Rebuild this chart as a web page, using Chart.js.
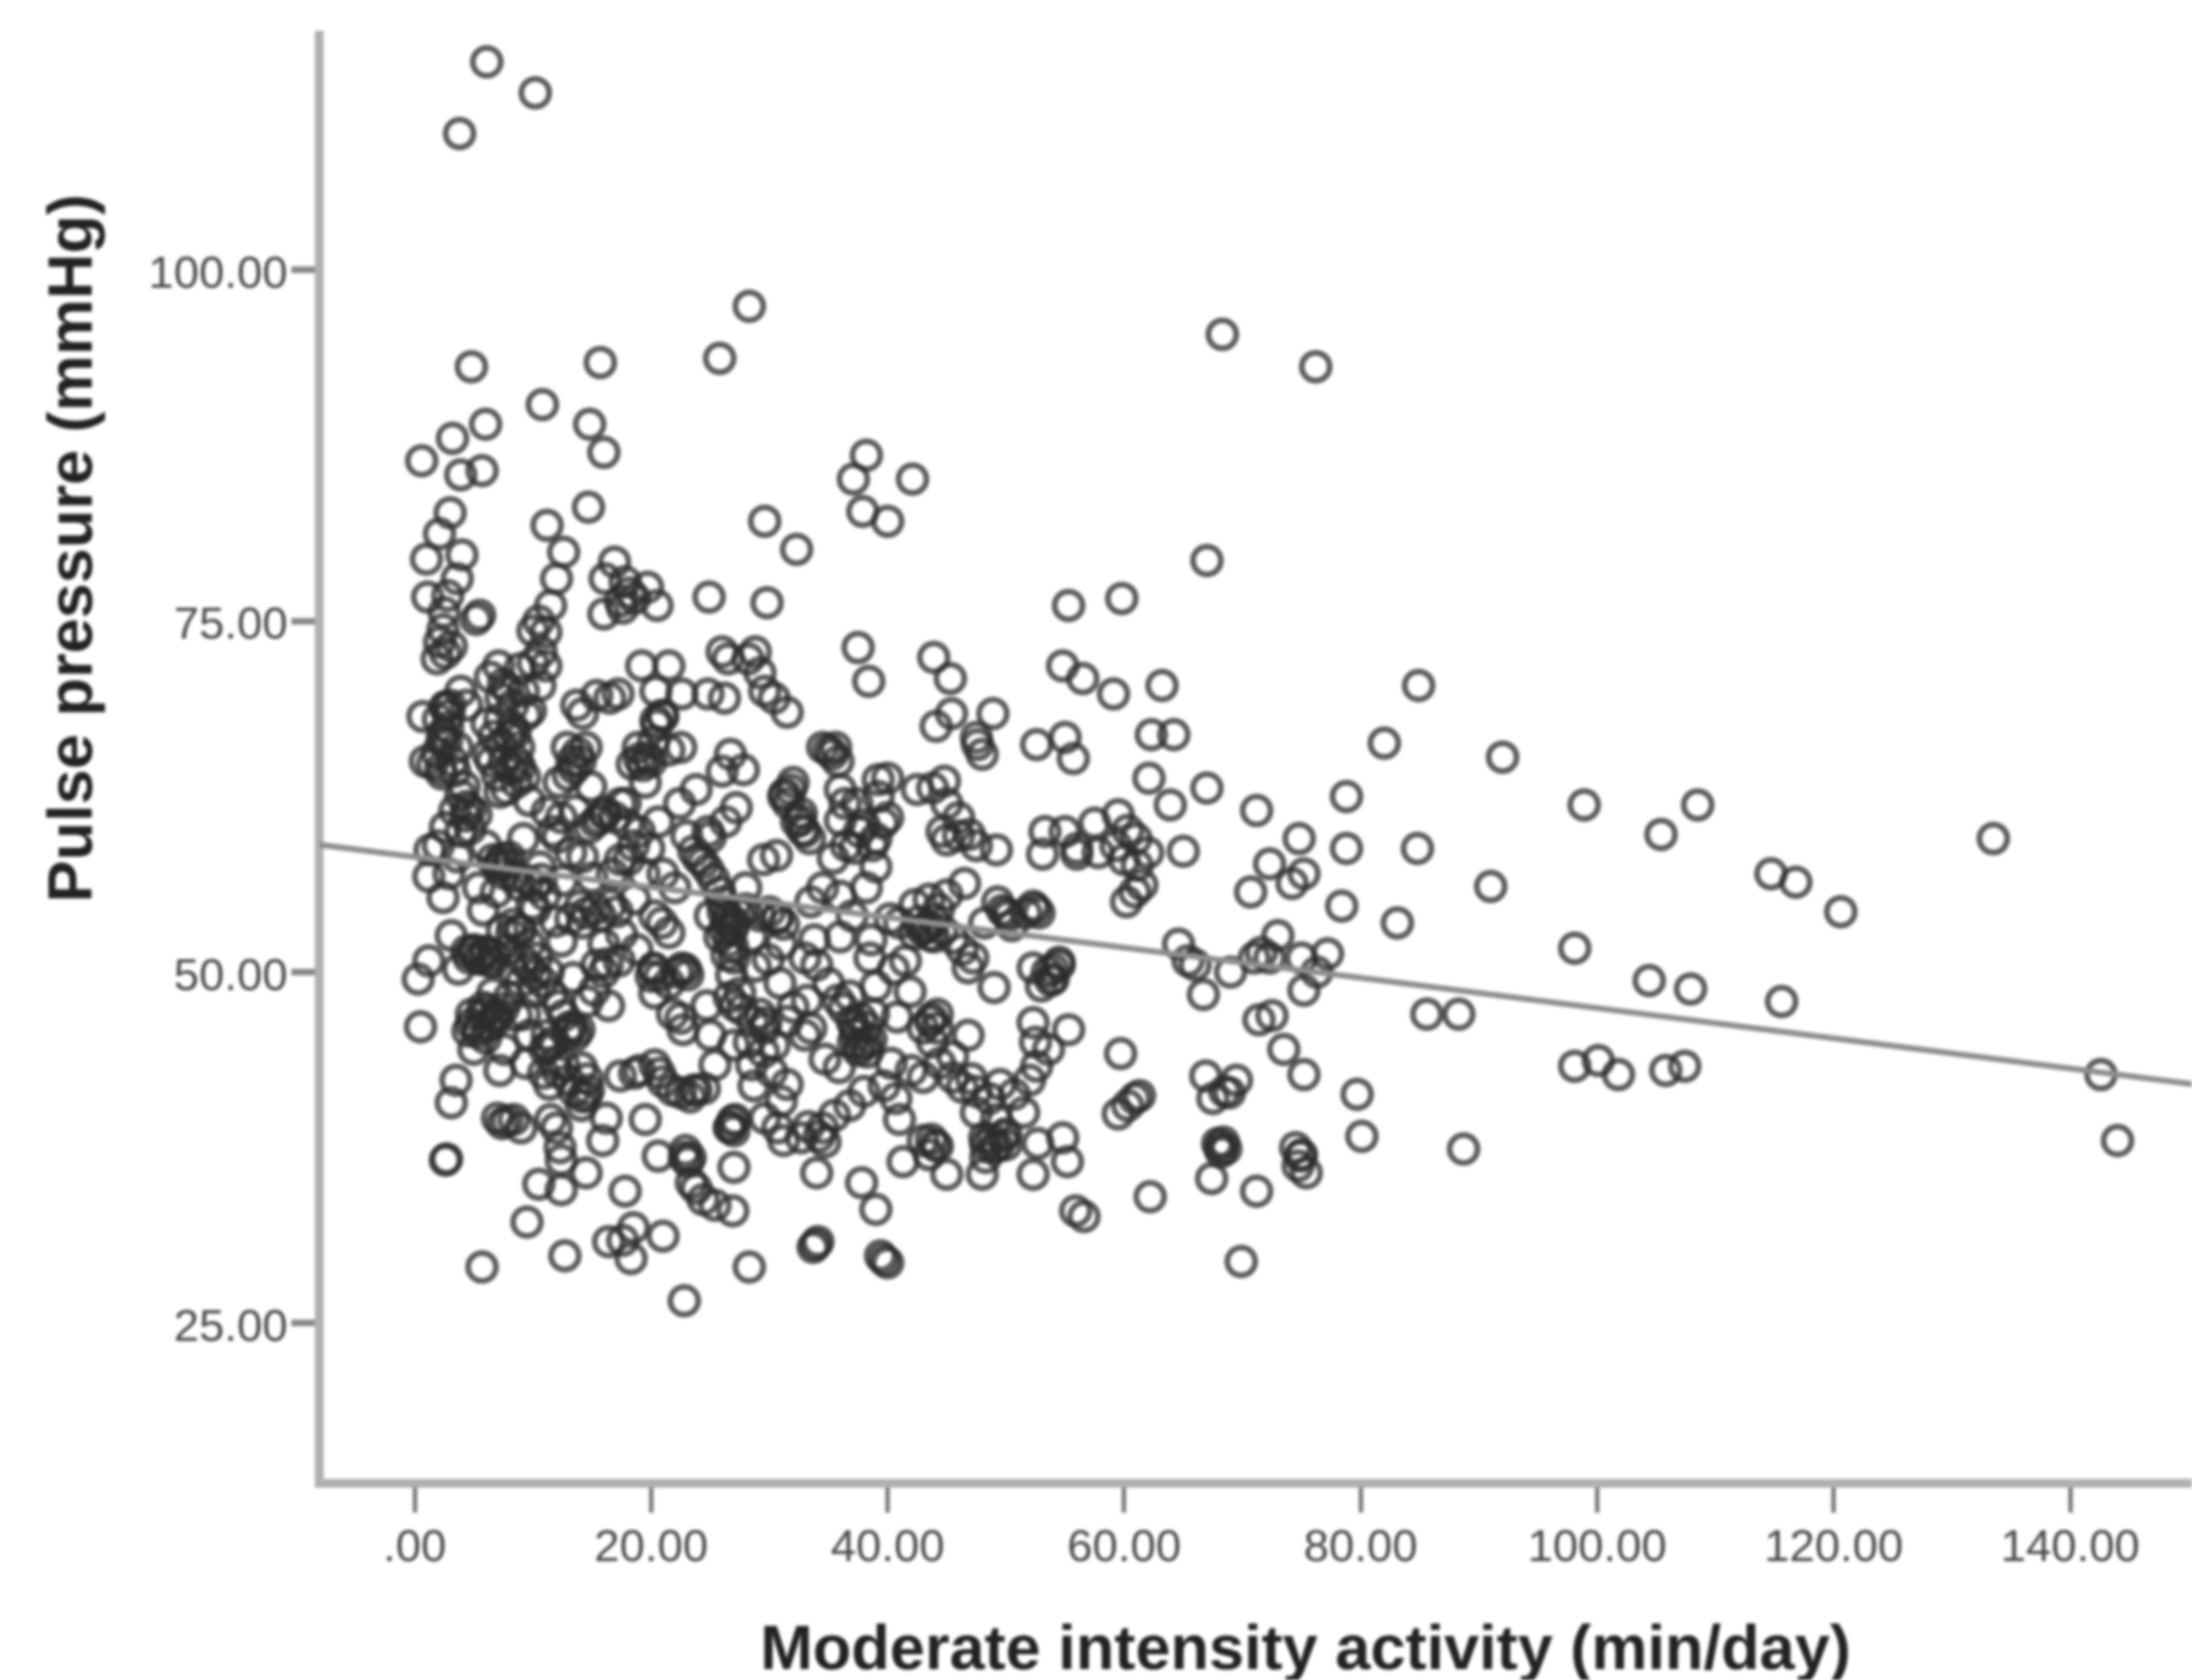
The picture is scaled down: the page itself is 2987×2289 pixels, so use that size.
<!DOCTYPE html>
<html>
<head>
<meta charset="utf-8">
<style>
  html, body { margin: 0; background: #fff; }
  canvas { display: block; filter: blur(2.2px); }
</style>
<script src="https://cdn.jsdelivr.net/npm/chart.js@4/dist/chart.umd.min.js"></script>
</head>
<body>
<canvas id="chart" width="2987" height="2289"></canvas>
<script>
const xTicks = [0, 20, 40, 60, 80, 100, 120, 140];
const yTicks = [25, 50, 75, 100];
const xRange = [-8.07, 150.3];
const yRange = [13.6, 116.7];

// fit line ends
const fitLine = [[-8.07, 59.06], [150.3, 42.03]];

// points as [activity, pulse pressure], grouped by area of the plot
const outliers = [[6.1,114.8],[10.2,112.6],[3.8,109.7],[28.3,97.4],[25.8,93.7],[4.8,93.1],[15.7,93.4],[68.3,95.4],[76.2,93.1],[10.8,90.4],[14.8,89],[6,89],[3.2,88],[0.6,86.4],[16,87],[3.9,85.4],[5.7,85.7],[38.2,86.8],[37.1,85.1],[42.1,85.1],[14.7,83.1],[37.9,82.8],[40,82.1],[29.6,82.1],[32.3,80.1],[67,79.3]];

const upperLeft = [[3,82.7],[2.1,81.2],[1,79.4],[4,79.7],[3.6,78],[1.1,76.7],[2.8,76.8],[2.5,75.6],[5.5,75.4],[5.2,75.1],[2.1,73.5],[1.9,72.3],[2.4,74.4],[11.2,81.8],[12.6,79.9],[12,78],[11.5,76.1],[10,74.3],[11.1,74.2],[7.1,71.8],[11.1,71.8],[10,72],[7.5,70.5],[7.3,69.5],[10.5,75],[10.7,72.8],[16.9,79.2],[16.1,78],[17.8,77.8],[19.7,77.4],[20.5,76.1],[17.4,76.4],[16,75.5],[18.2,77],[18.6,76.6],[17.6,75.9],[24.9,76.7],[29.8,76.3],[55.3,76.1],[59.8,76.6],[3.9,70],[4.4,69]];

const leftTop = [[0.7,68.2],[0.9,65],[1.5,64.8],[2,68],[2.3,66.5],[2.6,68.8],[3,69],[3.2,65],[2.2,64.5],[2.8,67.4],[3.6,66],[3.4,64.3],[6.2,65.5],[6.5,65],[7.6,65],[8.2,64.5],[8.6,63.5],[7.8,63],[7.2,62.8],[9.3,63.9],[7.2,68],[8.5,67],[8.8,66],[8.3,69],[13,64],[13.5,64.5],[14,65],[14.5,66],[12.9,66],[13.7,69],[14.2,68.4],[15.4,69.7],[16.5,69.5],[17.2,69.8],[14.8,60.3],[15.3,60.7],[16.1,61.2],[16.9,61],[17.8,62],[18.4,64.8],[18.9,66],[19,65.2],[20,65],[20.2,66.4],[20.5,67.6],[21,68.2],[21.5,65.8],[22.5,66],[19.5,63.5],[19,60],[19.2,71.8],[21.5,71.8],[20.4,70],[22.6,69.8],[24.8,69.8],[26.2,69.5],[26,72.8],[26.5,72.3],[28.2,72.3],[28.8,72.8],[29.2,71.3],[29.6,70],[30.4,69.5],[31.5,68.5],[26.7,65.5],[27.8,64.4],[26,64.3],[27.2,61.7],[26.3,60.7],[22.4,62],[23.8,63],[24.8,60],[25,59.6]];

const leftMiddle = [[1.3,58.7],[1.2,56.8],[2,59],[2.4,55.3],[2.6,60.3],[3.4,61.5],[3.9,60],[3.6,58.2],[2.9,57],[4.4,61.8],[4.2,63.2],[5.2,61.2],[4.7,60.2],[6,59],[6.6,58],[7.2,57.8],[7.6,57],[8,58.2],[8.4,56.8],[5.4,56],[6.9,55.7],[8.8,56.2],[9.6,56.5],[10.6,57.5],[11.7,60],[12.1,59.6],[12.4,61],[13.2,58.5],[12.5,56.5],[11,55.5],[10.2,54.5],[13.6,61.5],[7.4,53],[8.2,52.7],[9,53],[9.7,52],[10.3,51],[8.3,50.2],[9,49.3],[10,48.6],[10.8,49.3],[11.3,50],[12.4,52.2],[13.2,53.8],[14.2,53.5],[15.3,54.5],[15.7,54],[0.3,49.5],[1.2,50.8],[4.4,51.5],[5,51.6],[5.3,51],[6,51.4],[6.3,50.8],[6.7,51.2],[18.5,59],[17.4,58],[16.7,57],[18.1,58],[19.8,58.8],[21,57],[22,56],[16,52],[15.4,50.5],[16,50],[16.3,50.6],[17.5,52.7],[18.6,55.2],[19.4,57],[20.3,54],[20.9,53.5],[21.5,52.8],[20,49.7],[20.2,50.2],[21.5,49.2],[22.2,50],[22.9,50.2],[20.3,48.5],[21.8,47],[22.5,46.7],[22.7,45.9]];

const leftLower = [[0.5,46.1],[4.8,47],[4.5,45.8],[5.4,46],[5.8,47.5],[6.6,48.5],[6.3,46.2],[7,47],[6.8,46.5],[7.5,47.4],[8,48.2],[8.6,46.9],[6,45.3],[5,44.5],[7.6,44.5],[9.3,47],[9.7,45.5],[11,44.5],[11.3,44.7],[12.9,45.6],[13.3,46],[13.9,45.9],[12.6,46.9],[12.2,47.6],[3.5,42.3],[3.1,40.7],[2.6,36.6],[2.7,36.7],[5.7,29],[7.2,43],[9.4,43.5],[10.9,42.8],[11.4,42],[11.9,43.5],[13,42.3],[14.1,43.2],[14.6,42.4],[13.5,41.5],[14.5,41.2],[14.1,40.5],[7,39.6],[7.4,39.2],[7.8,39.4],[8.4,39.5],[9,38.9],[11.5,39.5],[12,38.9],[12.3,37.5],[12.4,36.6],[15.9,38],[16.2,39.6],[17.4,42.6],[18.6,42.8],[19.5,39.5],[20.6,36.9],[10.5,34.9],[12.4,34.5],[14.5,35.7],[9.5,32.2],[12.7,29.8],[16.4,30.8],[18.5,31.8],[17.8,34.4],[18.3,29.6],[21,31.2],[17.6,30.9],[19,43],[20.3,43.4],[21,42.2],[21.8,41.6],[22.5,41.4],[23.6,41.6],[24.5,41.7],[25.4,43.4],[26.7,39],[26.9,39.4],[27,38.7],[28.5,43.4],[28.7,41.9],[30.2,42.9],[31.5,42],[31,40.8],[29.6,39.6],[30.7,38.9],[31.2,38],[32.7,38.2],[33.3,39],[34.7,37.9],[34.5,38.9],[34.2,38.3],[22.8,36.8],[23.1,36.5],[23.4,35],[23.8,34.6],[24.4,33.8],[25.4,33.4],[26.9,33],[27,36.1],[28.3,29],[22.8,26.6]];

const center = [[24.4,57.8],[24.8,57.3],[25.3,56.6],[25.8,55.7],[26,55],[26.5,54],[27,53.5],[26.2,53],[25.8,52.5],[26.6,52.2],[27.4,54.2],[28,54.5],[29.2,54],[30,54.3],[30.6,53.8],[28.5,52.5],[27,51],[26.8,49.8],[27.5,48.5],[27.7,47.3],[28.6,46.5],[28.3,45],[29.6,46],[30.4,44.8],[29.5,44.3],[27,44.8],[31.2,62.5],[31.6,62],[32,63.5],[32.6,60.8],[32.7,61.3],[33,60],[33.4,59.5],[34.5,66],[35,65.8],[35.8,65],[36,63],[36.4,62],[36,60.8],[36.5,59],[37.2,58.8],[38,60.5],[38.7,59],[39,59.5],[39.2,63.7],[40,63.8],[39.2,62.5],[40,61],[39.6,60.6],[42.5,63],[43.8,63.1],[44.8,63.6],[37.4,62],[37.6,60],[29.5,58],[34.5,56],[33.5,55],[36,55.4],[37,54],[38.2,56],[39,57.5],[31,52],[33,51],[33.8,52.3],[34,50.5],[35,49.2],[33.2,48],[32,47.5],[31.5,46.5],[33.5,46],[33,45.5],[35.8,48],[36.3,47.4],[36.8,48.3],[37,46.5],[37.3,45.6],[37.5,44.4],[38.3,44.3],[38.6,45.2],[38.8,47],[39,49],[38.5,51],[38.6,52.3],[36,52.5],[40.5,50.2],[41.5,50.8],[42.3,52.7],[42.9,53],[43.4,53.3],[43.9,52.5],[44.6,53],[45.5,52.4],[46.3,51.6],[47.2,51],[46.8,50.3],[42.3,54.8],[43.5,55.2],[44.3,54.5],[45,55.5],[41,53.5],[40.2,53.8],[49.3,55],[50,54.2],[50.5,53.3],[51.7,54.2],[52.5,54.5],[48.2,53.5],[49,48.9],[43,46],[43.6,46.5],[44.2,47],[43.8,45],[46.8,45.5],[45.5,44],[37.5,73.1],[38.4,70.7],[43.9,72.4],[45.3,70.9],[44.1,67.5],[45.4,68.4],[48.9,68.4],[47.6,66.2],[47.5,66.7],[48,65.5],[45,59.4],[46,59.7],[46.9,59.8],[47.5,59],[49.2,58.7],[45,62],[46,61],[44.6,60],[46.5,56.3]];

const centerLower = [[52.3,50.3],[53.5,50],[54,49.5],[53,49],[54.5,50.5],[52.3,46.4],[52.5,45],[55.3,45.9],[53.6,44.5],[52.6,43.3],[52,42.3],[40.7,41],[41,39.5],[42,43],[43,42.5],[44.4,43.5],[45.5,42.5],[46.3,41.8],[47.5,41.5],[48.6,41],[49.5,42],[50.7,41.3],[51.5,40],[49.2,39.5],[50,38.5],[47.5,40],[48.2,38.2],[49,37.5],[50,37.7],[48.3,36.8],[43,38],[43.5,37],[44,37.7],[41.3,36.5],[45,35.6],[48,35.6],[52.3,35.6],[52.7,37.8],[54.8,38.2],[55.2,36.5],[35.5,39.8],[36.8,40.5],[38,41.5],[39.7,41.9],[34,35.7],[37.8,35],[39,33.1],[39.4,29.8],[39.7,29.5],[33.9,30.6],[34.1,30.8],[40,29.3],[33.7,30.4],[55.9,33],[56.6,32.6]];

const rightSide = [[54.8,71.8],[56.5,70.9],[59.1,69.8],[63.2,70.4],[62.3,66.9],[64.2,66.9],[62.1,63.8],[67,63.1],[63.9,61.9],[52.6,66.2],[55,66.7],[55.7,65.2],[55,60],[56,58.8],[57.5,60.6],[56,58.4],[57.8,58.5],[59.3,59],[59.5,61.2],[60.3,60.1],[61,59.5],[60,58],[61.1,57.6],[61.5,56.2],[60.9,55.7],[60.2,55],[62,58.5],[65,58.6],[53.3,60],[53.1,58.4],[64.6,52],[65.4,50.8],[66,50.5],[66.7,48.4],[69,50],[71,51],[71.6,51.4],[72.3,51],[73,52.6],[75,51],[76.3,50],[77.2,51.3],[75.2,48.7],[71.4,46.6],[72.5,46.9],[73.5,44.5],[75.2,42.7],[59.5,39.9],[60.3,40.5],[61.3,41.2],[60.9,41],[59.7,44.2],[66.9,42.6],[68.5,41.5],[67.5,41],[68.9,41.4],[69.5,42.3],[67.9,37.8],[68.2,37.2],[68.4,37.9],[68.6,37.4],[68.1,37.5],[67.4,35.3],[74.5,37.5],[74.9,36.9],[74.7,36.2],[75,37],[75.4,35.7],[62.2,34],[71.2,34.4],[69.9,29.4],[71.2,61.5],[74.8,59.5],[72.3,57.7],[75.2,57],[74.2,56.3],[70.7,55.7]];

const rightTail = [[84.9,70.4],[82,66.3],[92,65.3],[78.8,62.5],[98.9,61.9],[108.5,61.9],[105.4,59.8],[133.5,59.5],[78.8,58.8],[84.8,58.8],[91,56.1],[114.7,57],[116.8,56.4],[120.6,54.3],[78.4,54.7],[83.1,53.5],[98.1,51.7],[104.4,49.4],[107.9,48.8],[115.6,47.9],[85.6,47],[88.3,47],[98.1,43.3],[100.1,43.7],[101.8,42.7],[105.8,43],[107.4,43.3],[142.6,42.7],[144,38],[79.7,41.3],[80.1,38.3],[88.7,37.4]];

// overlapping points where the cloud prints darkest
const darkLeft = [[2.6,68.9],[2.9,68.3],[2.4,67],[2.7,66.4],[8.3,67.4],[8,66.8],[8.6,65],[8.9,64.6],[13.3,65],[13.8,65.6],[20.9,68.3],[20.4,67.9],[19.7,65.3],[19.3,64.7],[4.3,61.1],[4.7,61.6],[7.4,58.1],[7,57.5],[7.9,57.6],[10.7,56.6],[10.2,56.1],[16.1,61.4],[15.6,60.9],[17.4,62],[16.6,54.8],[17.1,54.3],[14.5,54.2],[14,54.7],[5,51.5],[6,51.5],[5.5,50.9],[6.6,50.7],[4.6,51],[9.7,50.3],[10.2,49.8],[9.2,50.8],[8.8,53],[8.3,53.4],[6.2,47.3],[6.7,46.8],[5.7,47],[4.8,46.3],[5.3,45.7],[13.1,46.1],[13.6,45.5],[11.2,45.5],[11.7,45],[12.6,43.4],[12.1,42.9],[14.7,41.6],[14.2,41.1],[1.9,65.6],[3.9,62.6],[2.3,64.1],[9.9,54.8],[11.9,53.6],[3.1,73.2],[2.6,72.7],[10.6,70.4],[9.4,68.3],[6.7,66.8],[7.3,66.2],[12.2,63.5],[14.9,63.2],[18,60.5],[11.2,61.4],[9.2,59.5],[5.8,54.4],[15.2,48.7],[16.4,47.6],[14.6,47.9],[17.3,50.8],[18.8,51.6],[6.4,71],[7.8,70.2],[8.9,71.6],[9.2,70],[9.8,68.6],[6.1,67.7],[7,64],[9.7,62.2],[3.1,52.6],[3.7,50.2],[7.9,51.6],[11.6,48.4],[13.4,49.6],[15,56.7],[14.2,58.2],[20.6,60.7],[23,59.7]];

const darkMiddle = [[26.4,53.6],[26.9,53.1],[26.1,54.3],[26.9,51.8],[26.4,51.2],[30.7,53.9],[31.2,53.4],[24,58.1],[23.6,58.6],[22.6,50.3],[23.1,49.8],[20.2,50.3],[20.7,49.7],[26.6,48.2],[27.1,47.6],[29.2,47],[29.7,46.4],[26.6,38.9],[27.1,39.5],[23.3,36.8],[22.9,37.3],[23.8,41.6],[23.3,41.1],[20.7,42.8],[43.1,53.1],[43.6,52.6],[42.6,53.6],[43.9,53.7],[37.7,46.7],[37.2,46.1],[38.2,46.1],[37.7,44.8],[38.2,44.9],[37.1,45],[31.3,62.7],[31.8,63],[32.3,60.7],[32.8,60.1],[48.8,38.1],[49.3,37.6],[48.3,37.7],[49.8,38.3],[43.7,38.1],[44.2,37.6],[43.7,46.7],[44.2,46],[49.7,54.4],[50.2,54],[52.3,54.7],[52.8,54.2],[54.5,50.7],[54,50.2],[53.8,49.4],[35.3,65.5],[35.6,66],[28,56],[25,54],[28.8,50.4],[29.9,50.9],[24.7,47.6],[25,45.5],[34.7,43.8],[35.9,43.2],[40.3,43.5],[40.8,46.8],[41.9,48.6],[47.1,42.4],[30.6,58.3],[30.9,49.2],[35.4,58.1]];

const allPoints = [...outliers, ...upperLeft, ...leftTop, ...leftMiddle, ...leftLower, ...center, ...centerLower, ...rightSide, ...rightTail, ...darkLeft, ...darkMiddle];

const tickText = v => v === 0 ? '.00' : v.toFixed(2);

// axis titles sit off-centre in the reference, so they are placed by hand
const axisTitles = {
  id: 'axisTitles',
  afterDraw(chart) {
    const c = chart.ctx;
    c.save();
    c.fillStyle = '#222';
    c.font = 'bold 86px "Liberation Sans"';
    c.textAlign = 'center';
    c.textBaseline = 'middle';
    c.fillText('Moderate intensity activity (min/day)', 1779, 2250);
    c.translate(101, 747);
    c.rotate(-Math.PI / 2);
    c.fillText('Pulse pressure (mmHg)', 0, 0);
    c.restore();
  }
};

new Chart(document.getElementById('chart').getContext('2d'), {
  type: 'scatter',
  data: {
    datasets: [{
      data: fitLine.map(p => ({ x: p[0], y: p[1] })),
      showLine: true,
      borderColor: '#8e8e8e',
      borderWidth: 8,
      pointRadius: 0
    }, {
      data: allPoints.map(p => ({ x: p[0], y: p[1] })),
      pointStyle: 'circle',
      pointRadius: 19,
      pointBorderWidth: 8,
      pointBorderColor: 'rgba(45,45,45,0.76)',
      pointBackgroundColor: 'rgba(0,0,0,0)'
    }]
  },
  plugins: [axisTitles],
  options: {
    responsive: false,
    animation: false,
    layout: { autoPadding: false, padding: { top: 48, right: 0, bottom: 0, left: 0 } },
    plugins: { legend: { display: false }, tooltip: { enabled: false } },
    scales: {
      x: {
        type: 'linear',
        min: xRange[0],
        max: xRange[1],
        afterFit: s => { s.height = 268; },
        afterBuildTicks: s => { s.ticks = xTicks.map(v => ({ value: v })); },
        grid: { drawOnChartArea: false, drawTicks: true, tickLength: 40, tickWidth: 6, tickColor: '#777' },
        border: { color: '#b0b0b0', width: 12 },
        ticks: {
          autoSkip: false,
          maxRotation: 0,
          color: '#4a4a4a',
          padding: 12,
          font: { family: 'Liberation Sans', size: 62 },
          callback: tickText
        }
      },
      y: {
        type: 'linear',
        min: yRange[0],
        max: yRange[1],
        afterFit: s => { s.width = 435; },
        afterBuildTicks: s => { s.ticks = yTicks.map(v => ({ value: v })); },
        grid: { drawOnChartArea: false, drawTicks: true, tickLength: 38, tickWidth: 9, tickColor: '#888' },
        border: { color: '#b0b0b0', width: 12 },
        ticks: {
          autoSkip: false,
          color: '#4a4a4a',
          padding: 5,
          labelOffset: 7,
          font: { family: 'Liberation Sans', size: 62 },
          callback: tickText
        }
      }
    }
  }
});
</script>
</body>
</html>
